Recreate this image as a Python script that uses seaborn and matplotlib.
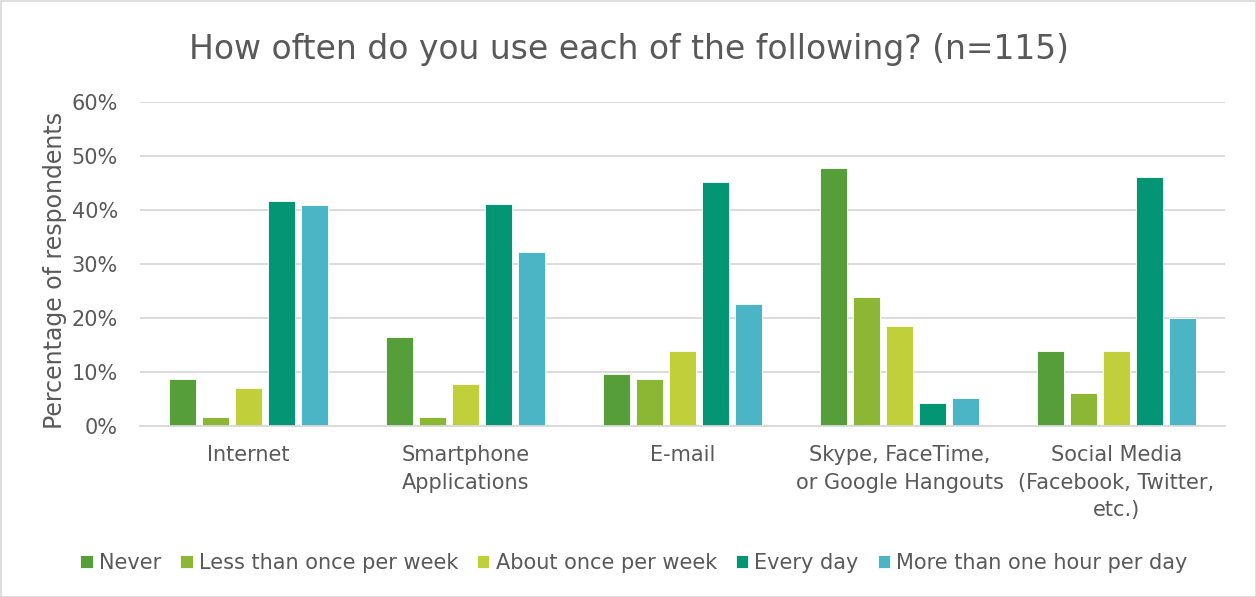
import matplotlib
matplotlib.use("Agg")
import matplotlib.pyplot as plt
import seaborn as sns
import pandas as pd
from matplotlib.patches import Rectangle

categories = ["Internet", "Smartphone\nApplications", "E-mail",
              "Skype, FaceTime,\nor Google Hangouts",
              "Social Media\n(Facebook, Twitter,\netc.)"]
frequencies = ["Never", "Less than once per week", "About once per week",
               "Every day", "More than one hour per day"]
never = [8.7, 16.5, 9.6, 47.8, 13.9]
less_weekly = [1.7, 1.7, 8.7, 23.9, 6.1]
weekly = [7.0, 7.8, 13.9, 18.5, 13.9]
every_day = [41.7, 41.2, 45.2, 4.3, 46.1]
over_hour = [40.9, 32.3, 22.6, 5.2, 20.0]
colors = ["#559E3A", "#8BB734", "#C0CF3A", "#039574", "#4BB5C6"]

series = [never, less_weekly, weekly, every_day, over_hour]
rows = []
for freq, vals in zip(frequencies, series):
    for cat, v in zip(categories, vals):
        rows.append({"category": cat, "frequency": freq, "value": v})
df = pd.DataFrame(rows)

sns.set_theme(style="white")
plt.rcParams["font.family"] = ["DejaVu Sans"]
text_color = "#595959"

fig = plt.figure(figsize=(12.56, 5.97), dpi=100)
ax = fig.add_axes([140 / 1256, 1 - 426 / 597, 1085 / 1256, 324 / 597])

sns.barplot(data=df, x="category", y="value", hue="frequency",
            order=categories, hue_order=frequencies, palette=colors,
            saturation=1, width=0.76, gap=0.16, ax=ax, legend=True,
            edgecolor="white", linewidth=0.6)

ax.set_xlim(-0.5, 4.5)
ax.set_ylim(0, 60)
ax.set_yticks(range(0, 61, 10))
ax.set_yticklabels([f"{t}%" for t in range(0, 61, 10)])
ax.yaxis.grid(True, color="#D9D9D9", linewidth=1.3)
ax.set_axisbelow(True)
for s in ["left", "right", "top"]:
    ax.spines[s].set_visible(False)
ax.spines["bottom"].set_color("#D9D9D9")
ax.spines["bottom"].set_linewidth(1.3)
ax.tick_params(axis="both", length=0, labelsize=15, colors=text_color)
ax.tick_params(axis="y", pad=16)
ax.tick_params(axis="x", pad=14)
for lbl in ax.get_xticklabels():
    lbl.set_linespacing(1.45)
ax.set_xlabel("")
ax.set_ylabel("Percentage of respondents", fontsize=17, color=text_color)
ax.yaxis.set_label_coords(-73 / 1085, 0.48)

fig.text(629 / 1256, 1 - 50 / 597,
         "How often do you use each of the following? (n=115)",
         ha="center", va="center", fontsize=23.8, color=text_color)

handles, labels = ax.get_legend_handles_labels()
ax.legend_.remove()
fig.legend(handles, labels, loc="center", bbox_to_anchor=(634 / 1256, 1 - 563 / 597),
           ncol=5, frameon=False, fontsize=15, handlelength=0.6,
           handleheight=0.6, handletextpad=0.3, columnspacing=0.9,
           labelcolor=text_color)

fig.patches.append(Rectangle((0.5 / 1256, 0.5 / 597), 1 - 1 / 1256, 1 - 1 / 597,
                             transform=fig.transFigure, fill=False,
                             edgecolor="#D9D9D9", linewidth=1.2))

fig.savefig("out.png", dpi=100)
